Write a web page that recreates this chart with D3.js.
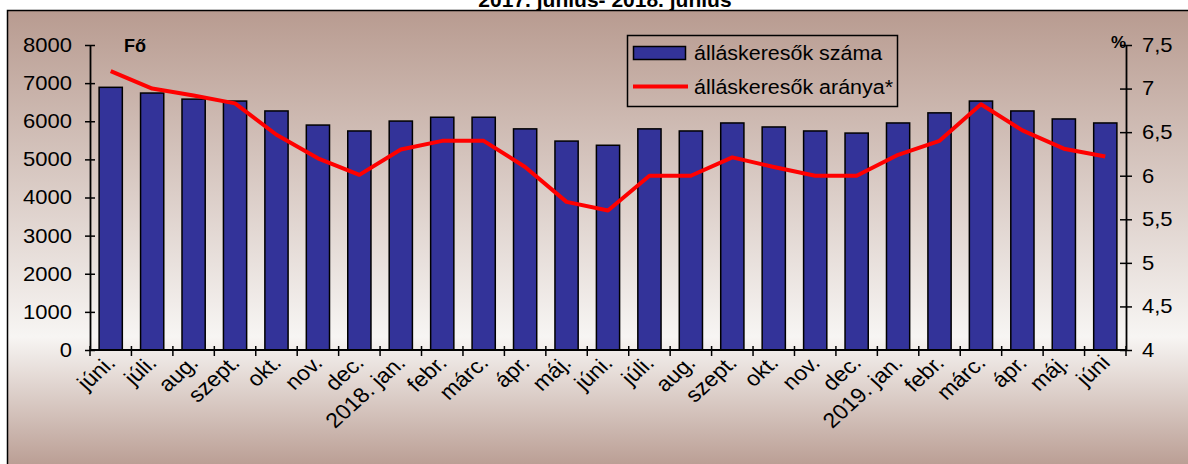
<!DOCTYPE html>
<html>
<head>
<meta charset="utf-8">
<script src="https://cdn.jsdelivr.net/npm/d3@7"></script>
<style>
  body { margin: 0; background: #fff; }
  text { font-family: "Liberation Sans", Arial, sans-serif; fill: #000; }
</style>
</head>
<body>
<svg id="chart" width="1188" height="464"></svg>
<script>
// honapok (jun. 2017 - jun. 2019)
var months = ["júni.", "júli.", "aug.", "szept.", "okt.", "nov.", "dec.", "2018. jan.", "febr.", "márc.", "ápr.", "máj.",
  "júni.", "júli.", "aug.", "szept.", "okt.", "nov.", "dec.", "2019. jan.", "febr.", "márc.", "ápr.", "máj.", "júni"];
// allaskeresok szama (fo)
var jobseekers = [6890, 6740, 6580, 6530, 6270, 5900, 5745, 6005, 6105, 6105, 5800, 5480,
  5370, 5800, 5745, 5955, 5850, 5745, 5690, 5955, 6220, 6530, 6270, 6060, 5955];
// allaskeresok aranya (%)
var ratio = [7.2, 7.0, 6.92, 6.83, 6.47, 6.2, 6.01, 6.3, 6.4, 6.4, 6.1, 5.7,
  5.6, 6.0, 6.0, 6.21, 6.1, 6.0, 6.0, 6.24, 6.4, 6.82, 6.52, 6.31, 6.22];
var leftTicks = [0, 1000, 2000, 3000, 4000, 5000, 6000, 7000, 8000];
var rightTicks = [4, 4.5, 5, 5.5, 6, 6.5, 7, 7.5];

var svg = d3.select("#chart");
var sx = 1.1; // szoveg vizszintes nyujtasa

var defs = svg.append("defs");
var grad = defs.append("linearGradient").attr("id", "bg")
  .attr("gradientUnits", "userSpaceOnUse")
  .attr("x1", 0).attr("y1", 10).attr("x2", 0).attr("y2", 464);
grad.append("stop").attr("offset", 0).attr("stop-color", "#b89b90");
grad.append("stop").attr("offset", 0.72).attr("stop-color", "#f7f5f3");
grad.append("stop").attr("offset", 1).attr("stop-color", "#bb9f95");

svg.append("rect").attr("x", 7.5).attr("y", 10.5).attr("width", 1200).attr("height", 500)
  .attr("fill", "url(#bg)").attr("stroke", "#000").attr("stroke-width", 1.5);

svg.append("text").attr("x", 605).attr("y", 7)
  .attr("text-anchor", "middle").attr("font-weight", "bold").attr("font-size", 21)
  .text("2017. június- 2018. június");

var x = d3.scaleBand().domain(d3.range(months.length)).range([90, 1126])
  .paddingInner(0.44).paddingOuter(0.22);
var y = d3.scaleLinear().domain([0, 8000]).range([350, 45]);
var y2 = d3.scaleLinear().domain([4, 7.5]).range([350, 45]);

// oszlopok
svg.append("g").selectAll("rect").data(jobseekers).enter().append("rect")
  .attr("x", function (d, i) { return x(i); })
  .attr("y", function (d) { return y(d); })
  .attr("width", x.bandwidth())
  .attr("height", function (d) { return y(0) - y(d); })
  .attr("fill", "#333399")
  .attr("stroke", "#000")
  .attr("stroke-width", 1.5);

// bal tengely
var gl = svg.append("g").attr("transform", "translate(90,0)")
  .call(d3.axisLeft(y).tickValues(leftTicks).tickSizeInner(5).tickSizeOuter(0).tickFormat(d3.format("d")));
gl.selectAll(".tick line").attr("x1", 5).attr("stroke-width", 1.5);
gl.select(".domain").attr("stroke-width", 1.8);
gl.selectAll("text").attr("x", -18 / sx).attr("font-size", 20)
  .attr("transform", "scale(" + sx + ",1)");

// jobb tengely
var gr = svg.append("g").attr("transform", "translate(1126,0)")
  .call(d3.axisRight(y2).tickValues(rightTicks).tickSizeInner(6).tickSizeOuter(0)
    .tickFormat(function (d) { return String(d).replace(".", ","); }));
gr.selectAll(".tick line").attr("x1", -6).attr("stroke-width", 1.5);
gr.select(".domain").attr("stroke-width", 1.8);
gr.selectAll("text").attr("x", 16 / sx).attr("font-size", 20)
  .attr("transform", "scale(" + sx + ",1)");

// also tengely
var step = x.step();
var gb = svg.append("g");
gb.append("line").attr("x1", 90).attr("x2", 1126).attr("y1", 350).attr("y2", 350)
  .attr("stroke", "#000").attr("stroke-width", 2);
gb.selectAll("line.tk").data(d3.range(months.length + 1)).enter().append("line")
  .attr("class", "tk")
  .attr("x1", function (i) { return 90 + i * step; })
  .attr("x2", function (i) { return 90 + i * step; })
  .attr("y1", 346).attr("y2", 356)
  .attr("stroke", "#000").attr("stroke-width", 1.5);
gb.selectAll("text").data(months).enter().append("text")
  .attr("text-anchor", "end").attr("font-size", 21)
  .attr("transform", function (d, i) {
    return "translate(" + (x(i) + x.bandwidth() / 2 + 6) + ",364) scale(" + sx + ",1) rotate(-45)";
  })
  .text(function (d) { return d; });

// vonal
var line = d3.line()
  .x(function (d, i) { return x(i) + x.bandwidth() / 2; })
  .y(function (d) { return y2(d); });
svg.append("path").datum(ratio).attr("d", line)
  .attr("fill", "none").attr("stroke", "#ff0000").attr("stroke-width", 4)
  .attr("stroke-linejoin", "round");

// tengelycimek
svg.append("text").attr("x", 124).attr("y", 52).attr("font-weight", "bold").attr("font-size", 18).text("Fő");
svg.append("text").attr("x", 1126).attr("y", 48).attr("text-anchor", "end")
  .attr("font-weight", "bold").attr("font-size", 17).text("%");

// jelmagyarazat
var lg = svg.append("g");
lg.append("rect").attr("x", 627.5).attr("y", 35.5).attr("width", 270).attr("height", 71)
  .attr("fill", "none").attr("stroke", "#000").attr("stroke-width", 1.5);
lg.append("rect").attr("x", 633.5).attr("y", 46.5).attr("width", 52).attr("height", 13)
  .attr("fill", "#333399").attr("stroke", "#000").attr("stroke-width", 1.5);
lg.append("line").attr("x1", 633).attr("x2", 688).attr("y1", 86.5).attr("y2", 86.5)
  .attr("stroke", "#ff0000").attr("stroke-width", 4);
lg.append("text").attr("transform", "translate(694,60) scale(" + sx + ",1)").attr("font-size", 19.5)
  .text("álláskeresők száma");
lg.append("text").attr("transform", "translate(694,94) scale(" + sx + ",1)").attr("font-size", 19.5)
  .text("álláskeresők aránya*");
</script>
</body>
</html>
